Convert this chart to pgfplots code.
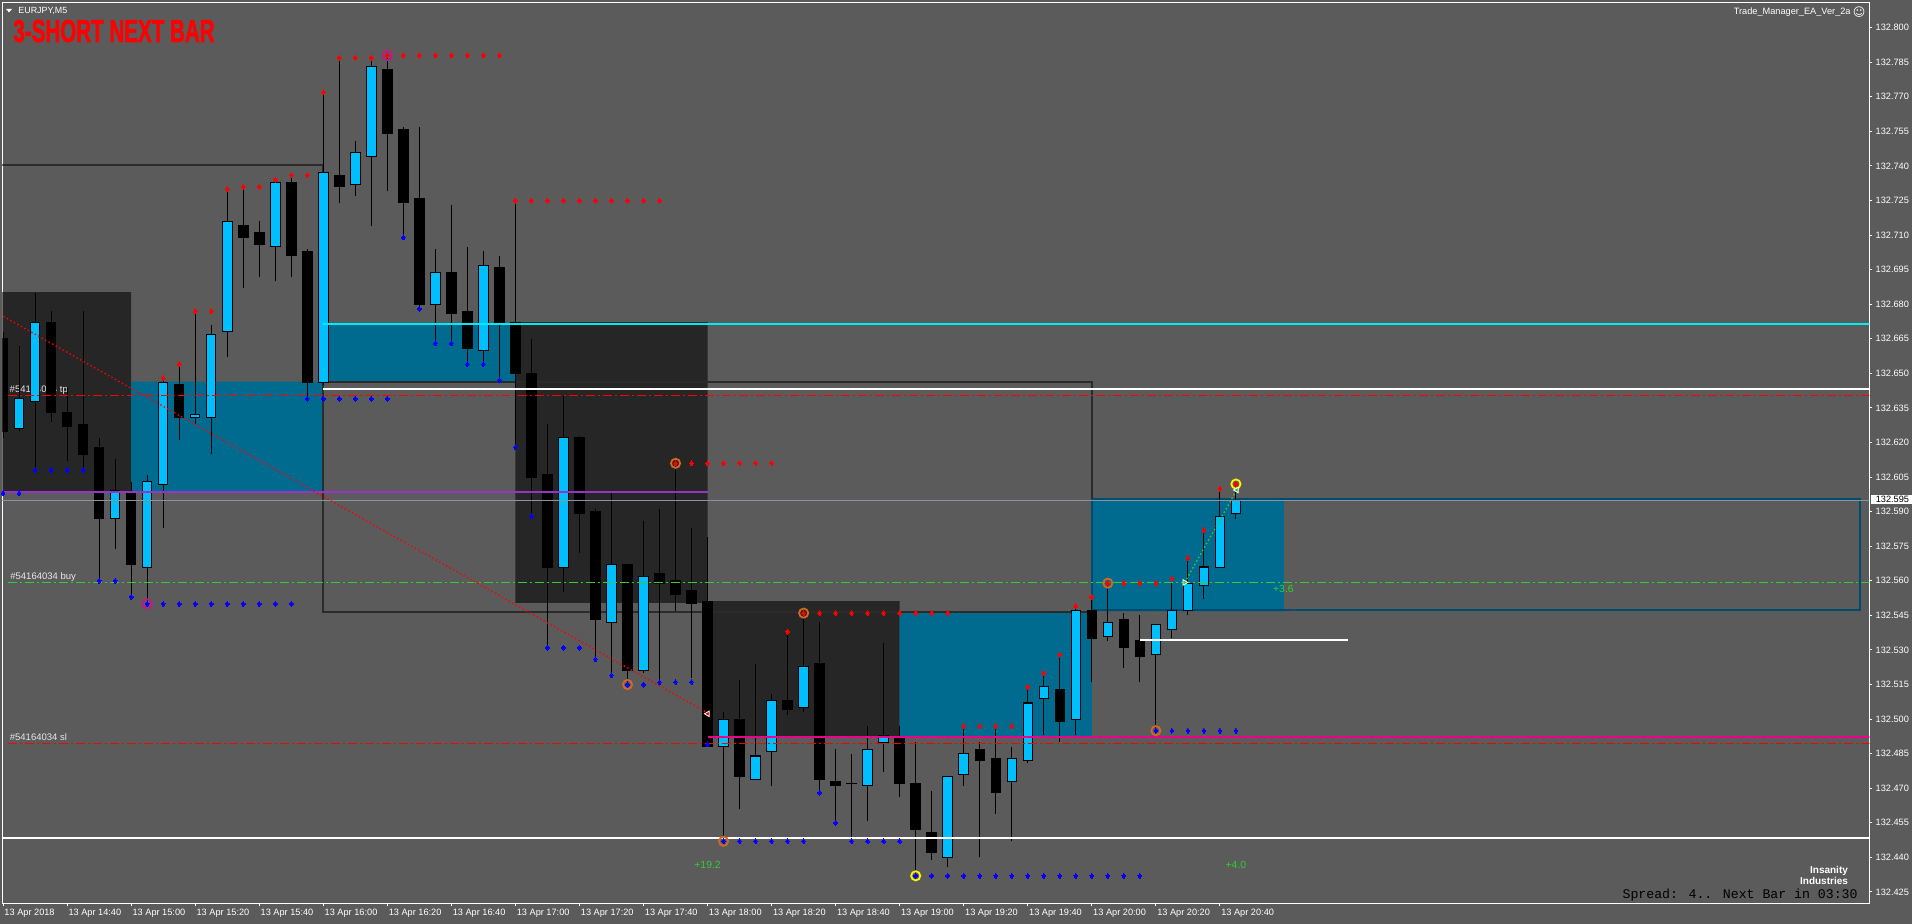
\documentclass[border=0pt]{standalone}
\usepackage{fontspec}
\setmainfont{Liberation Sans}
\newfontfamily\monofont{Liberation Mono}
\newfontfamily\symfont{DejaVu Sans}
\newfontfamily\titlefont[BoldFeatures={FakeBold=2}]{Liberation Sans}
\usepackage{graphicx}
\usepackage{pgfplots}
\usepackage{pgfplotstable}
\pgfplotsset{compat=1.18}

\definecolor{bg}{HTML}{5B5B5B}
\definecolor{darkbox}{HTML}{262626}
\definecolor{tealbox}{HTML}{006A8F}
\definecolor{candleblue}{HTML}{00BFFF}
\definecolor{boxline}{HTML}{2B2B2B}
\definecolor{tealline}{HTML}{004C6E}
\definecolor{cyanline}{HTML}{00ECF2}
\definecolor{purpleline}{HTML}{9932CC}
\definecolor{bidgrey}{HTML}{8795A3}
\definecolor{lime}{HTML}{32CD32}
\definecolor{labeltext}{HTML}{E8E8E8}
\definecolor{orangec}{HTML}{D2691E}
\definecolor{magc}{HTML}{C71585}

% 5 minute bars, i = 0 is 13 Apr 14:20
\pgfplotstableread{
i o h l c
0 132.665 132.668 132.622 132.625
1 132.626 132.662 132.625 132.639
2 132.638 132.685 132.608 132.672
3 132.672 132.677 132.629 132.633
4 132.633 132.644 132.612 132.627
5 132.628 132.677 132.608 132.615
6 132.618 132.622 132.560 132.587
7 132.587 132.613 132.574 132.599
8 132.598 132.603 132.553 132.567
9 132.566 132.606 132.550 132.603
10 132.602 132.647 132.583 132.646
11 132.645 132.653 132.621 132.631
12 132.631 132.677 132.628 132.632
13 132.631 132.671 132.615 132.667
14 132.668 132.730 132.657 132.716
15 132.714 132.731 132.687 132.709
16 132.711 132.716 132.692 132.706
17 132.705 132.734 132.690 132.733
18 132.733 132.735 132.692 132.701
19 132.703 132.704 132.639 132.646
20 132.646 132.772 132.645 132.737
21 132.736 132.787 132.724 132.731
22 132.732 132.751 132.727 132.746
23 132.744 132.787 132.714 132.783
24 132.782 132.788 132.729 132.754
25 132.756 132.757 132.709 132.724
26 132.726 132.757 132.678 132.680
27 132.680 132.704 132.663 132.694
28 132.694 132.723 132.663 132.676
29 132.677 132.705 132.654 132.661
30 132.660 132.703 132.654 132.697
31 132.696 132.701 132.647 132.672
32 132.672 132.725 132.618 132.650
33 132.650 132.665 132.588 132.605
34 132.606 132.628 132.531 132.566
35 132.566 132.640 132.555 132.622
36 132.622 132.623 132.572 132.589
37 132.590 132.591 132.526 132.543
38 132.542 132.598 132.519 132.567
39 132.567 132.567 132.515 132.521
40 132.521 132.586 132.520 132.562
41 132.563 132.591 132.516 132.559
42 132.560 132.611 132.547 132.554
43 132.556 132.583 132.518 132.550
44 132.551 132.579 132.488 132.488
45 132.488 132.503 132.447 132.500
46 132.500 132.517 132.461 132.475
47 132.474 132.524 132.474 132.484
48 132.486 132.511 132.471 132.508
49 132.508 132.538 132.502 132.504
50 132.505 132.546 132.503 132.523
51 132.524 132.542 132.468 132.474
52 132.473 132.487 132.455 132.471
53 132.472 132.485 132.447 132.472
54 132.471 132.497 132.456 132.487
55 132.490 132.533 132.477 132.493
56 132.492 132.497 132.466 132.472
57 132.472 132.490 132.432 132.452
58 132.451 132.469 132.439 132.442
59 132.440 132.475 132.436 132.475
60 132.476 132.497 132.471 132.485
61 132.487 132.490 132.440 132.482
62 132.483 132.497 132.459 132.468
63 132.473 132.488 132.447 132.483
64 132.482 132.514 132.481 132.507
65 132.509 132.520 132.493 132.514
66 132.513 132.528 132.490 132.499
67 132.500 132.549 132.493 132.547
68 132.547 132.553 132.516 132.535
69 132.536 132.559 132.534 132.542
70 132.543 132.546 132.522 132.531
71 132.534 132.545 132.516 132.527
72 132.528 132.541 132.495 132.541
73 132.539 132.561 132.535 132.547
74 132.547 132.570 132.545 132.559
75 132.558 132.582 132.552 132.566
76 132.566 132.600 132.566 132.588
77 132.589 132.602 132.587 132.595
}\candles

\pgfplotstableread{
i p
10 132.648
11 132.654
12 132.677
13 132.677
14 132.730
15 132.731
16 132.731
17 132.734
18 132.736
19 132.736
20 132.772
21 132.787
22 132.787
23 132.787
24 132.788
25 132.788
26 132.788
27 132.788
28 132.788
29 132.788
30 132.788
31 132.788
32 132.725
33 132.725
34 132.725
35 132.725
36 132.725
37 132.725
38 132.725
39 132.725
40 132.725
41 132.725
42 132.611
43 132.611
44 132.611
45 132.611
46 132.611
47 132.611
48 132.611
49 132.538
50 132.546
51 132.546
52 132.546
53 132.546
54 132.546
55 132.546
56 132.546
57 132.546
58 132.546
59 132.546
60 132.497
61 132.497
62 132.497
63 132.497
64 132.514
65 132.520
66 132.528
67 132.549
68 132.553
69 132.559
70 132.559
71 132.559
72 132.559
73 132.561
74 132.570
75 132.582
76 132.600
77 132.602
}\reddots

\pgfplotstableread{
i p
0 132.598
1 132.598
2 132.608
3 132.608
4 132.608
5 132.608
6 132.560
7 132.560
8 132.553
9 132.550
10 132.550
11 132.550
12 132.550
13 132.550
14 132.550
15 132.550
16 132.550
17 132.550
18 132.550
19 132.639
20 132.639
21 132.639
22 132.639
23 132.639
24 132.639
25 132.709
26 132.678
27 132.663
28 132.663
29 132.654
30 132.654
31 132.647
32 132.618
33 132.588
34 132.531
35 132.531
36 132.531
37 132.526
38 132.519
39 132.515
40 132.515
41 132.516
42 132.516
43 132.516
44 132.489
45 132.447
46 132.447
47 132.447
48 132.447
49 132.447
50 132.447
51 132.468
52 132.455
53 132.447
54 132.447
55 132.447
56 132.447
57 132.432
58 132.432
59 132.432
60 132.432
61 132.432
62 132.432
63 132.432
64 132.432
65 132.432
66 132.432
67 132.432
68 132.432
69 132.432
70 132.432
71 132.432
72 132.495
73 132.495
74 132.495
75 132.495
76 132.495
77 132.495
}\bluedots

\begin{document}
\begin{tikzpicture}[x=1pt,y=1pt]
\fill[bg] (0,0) rectangle (956,462);
\begin{axis}[
  at={(1.25pt,10.35pt)}, anchor=south west, scale only axis,
  width=933.4pt, height=450.3pt,
  xmin=-0.0375, xmax=116.56, ymin=132.42009, ymax=132.81085,
  axis line style={white, line width=0.5pt},
  tick align=outside, major tick length=1.5pt,
  tick style={white, line width=0.5pt},
  xtick pos=left, ytick pos=right, xticklabel pos=left, yticklabel pos=right,
  xtick={0,4,...,76},
  xticklabels={13 Apr 2018, 13 Apr 14:40, 13 Apr 15:00, 13 Apr 15:20, 13 Apr 15:40,
    13 Apr 16:00, 13 Apr 16:20, 13 Apr 16:40, 13 Apr 17:00, 13 Apr 17:20, 13 Apr 17:40,
    13 Apr 18:00, 13 Apr 18:20, 13 Apr 18:40, 13 Apr 19:00, 13 Apr 19:20, 13 Apr 19:40,
    13 Apr 20:00, 13 Apr 20:20, 13 Apr 20:40},
  xticklabel style={font=\fontsize{4.6}{5}\selectfont, text=white, anchor=north west,
    inner sep=0pt, xshift=0.5pt, yshift=-1pt},
  ytick={132.425,132.440,132.455,132.470,132.485,132.500,132.515,132.530,132.545,
    132.560,132.575,132.590,132.605,132.620,132.635,132.650,132.665,132.680,132.695,
    132.710,132.725,132.740,132.755,132.770,132.785,132.800},
  yticklabel style={font=\fontsize{4.6}{5}\selectfont, text=white, anchor=west,
    inner sep=0pt, xshift=1.5pt},
  /pgf/number format/fixed, /pgf/number format/fixed zerofill,
  /pgf/number format/precision=3, /pgf/number format/1000 sep={},
  /pgf/number format/assume math mode=true,
]
% boxes
\addplot[fill=darkbox, draw=none] coordinates {(-2,132.6853) (8,132.6853) (8,132.5985) (-2,132.5985) (-2,132.6853)};
\addplot[fill=tealbox, draw=none] coordinates {(8,132.6464) (20,132.6464) (20,132.5985) (8,132.5985) (8,132.6464)};
\addplot[fill=tealbox, draw=none] coordinates {(20,132.6714) (32,132.6714) (32,132.6464) (20,132.6464) (20,132.6714)};
\addplot[fill=darkbox, draw=none] coordinates {(32,132.6723) (44,132.6723) (44,132.5504) (32,132.5504) (32,132.6723)};
\addplot[fill=darkbox, draw=none] coordinates {(44,132.5512) (56,132.5512) (56,132.4922) (44,132.4922) (44,132.5512)};
\addplot[fill=tealbox, draw=none] coordinates {(56,132.5465) (68,132.5465) (68,132.4927) (56,132.4927) (56,132.5465)};
\addplot[fill=tealbox, draw=none] coordinates {(68,132.5957) (80,132.5957) (80,132.5467) (68,132.5467) (68,132.5957)};
\addplot[draw=boxline, line width=1pt] coordinates {(-2,132.7405) (20,132.7405) (20,132.6464)};
\addplot[draw=boxline, line width=1pt] coordinates {(20,132.6464) (68,132.6464) (68,132.5465) (20,132.5465) (20,132.6464)};
\addplot[draw=tealline, line width=1pt] coordinates {(68,132.5955) (116,132.5955) (116,132.5474) (68,132.5474) (68,132.5955)};

% order labels
\node[anchor=west, text=labeltext, font=\fontsize{4.75}{5}\selectfont, inner sep=0pt] at (axis cs:0.39,132.6427) {\#54164034 tp};
\node[anchor=west, text=labeltext, font=\fontsize{4.75}{5}\selectfont, inner sep=0pt] at (axis cs:0.43,132.5618) {\#54164034 buy};
\node[anchor=west, text=labeltext, font=\fontsize{4.75}{5}\selectfont, inner sep=0pt] at (axis cs:0.40,132.4922) {\#54164034 sl};

% candles: wicks, body outline, bullish fill
\addplot[draw=none, mark=none, error bars/.cd, y dir=plus, y explicit, error mark=none,
  error bar style={draw=black, line width=0.5pt}]
  table[x=i, y=l, y error expr=\thisrow{h}-\thisrow{l}] {\candles};
\addplot[draw=none, mark=none, error bars/.cd, y dir=plus, y explicit, error mark=none,
  error bar style={draw=black, line width=5.25pt}]
  table[x=i, y expr={min(\thisrow{o},\thisrow{c})-0.00022}, y error expr={abs(\thisrow{c}-\thisrow{o})+0.00044}] {\candles};
\addplot[draw=none, mark=none, restrict expr to domain={\thisrow{c}-\thisrow{o}}{0.0005:1},
  error bars/.cd, y dir=plus, y explicit, error mark=none,
  error bar style={draw=candleblue, line width=4.25pt}]
  table[x=i, y expr={\thisrow{o}+0.00022}, y error expr={\thisrow{c}-\thisrow{o}-0.00044}] {\candles};

% horizontal lines
\addplot[cyanline, line width=1pt] coordinates {(20,132.6714) (118,132.6714)};
\addplot[white, line width=1pt] coordinates {(20,132.6433) (118,132.6433)};
\addplot[red, line width=0.5pt, dash pattern=on 4.5pt off 1.5pt on 1pt off 1.5pt] coordinates {(0.3,132.6405) (118,132.6405)};
\addplot[purpleline, line width=1pt] coordinates {(-1,132.5985) (44,132.5985)};
\addplot[bidgrey, line width=0.5pt] coordinates {(-1,132.595) (118,132.595)};
\addplot[lime, line width=0.5pt, dash pattern=on 4.5pt off 1.5pt on 1pt off 1.5pt] coordinates {(0.3,132.5593) (118,132.5593)};
\addplot[magenta, line width=1pt] coordinates {(44,132.4923) (118,132.4923)};
\addplot[red, line width=0.5pt, dash pattern=on 4.5pt off 1.5pt on 1pt off 1.5pt] coordinates {(0.3,132.4894) (118,132.4894)};
\addplot[white, line width=1pt] coordinates {(-1,132.4484) (118,132.4484)};
\addplot[white, line width=1pt] coordinates {(71,132.5344) (84,132.5344)};

% trade lines
\addplot[red, line width=0.7pt, dash pattern=on 0.7pt off 1.3pt] coordinates {(-0.2,132.6756) (44,132.5027)};
\addplot[lime, line width=0.7pt, dash pattern=on 0.7pt off 1.3pt] coordinates {(73.8,132.5593) (77.05,132.5994)};

% fractal dots
\addplot[only marks, mark=diamond*, mark size=1.25pt, mark options={draw=red, fill=red, line width=0pt}] table[x=i, y=p] {\reddots};
\addplot[only marks, mark=diamond*, mark size=1.25pt, mark options={draw=blue, fill=blue, line width=0pt}] table[x=i, y=p] {\bluedots};

% signal circles
\addplot[only marks, mark=o, mark size=2.3pt, mark options={draw=magc, line width=0.9pt}] coordinates {(9,132.550) (24,132.788)};
\addplot[only marks, mark=o, mark size=2.3pt, mark options={draw=orangec, line width=0.9pt}] coordinates {(39,132.515) (42,132.611) (45,132.447) (50,132.546) (69,132.559) (72,132.495)};
\addplot[only marks, mark=o, mark size=2.3pt, mark options={draw=yellow, line width=0.9pt}] coordinates {(57,132.432) (77,132.602)};

% trade arrows
\addplot[only marks, mark=triangle*, mark size=1.6pt, mark options={rotate=90, fill=red, draw=white, line width=0.4pt}] coordinates {(44,132.5023)};
\addplot[only marks, mark=triangle*, mark size=1.6pt, mark options={rotate=-90, fill=lime, draw=white, line width=0.4pt}] coordinates {(73.8,132.5593)};
\addplot[only marks, mark=triangle*, mark size=1.6pt, mark options={rotate=90, fill=lime, draw=white, line width=0.4pt}] coordinates {(77.05,132.5994)};

% profit labels
\node[text=lime, font=\fontsize{5.2}{6}\selectfont, inner sep=0pt] at (axis cs:44,132.4366) {+19.2};
\node[text=lime, font=\fontsize{5.2}{6}\selectfont, inner sep=0pt] at (axis cs:77,132.4366) {+4.0};
\node[anchor=west, text=lime, font=\fontsize{5.2}{6}\selectfont, inner sep=0pt] at (axis cs:79.3,132.5566) {+3.6};
\end{axis}

% chart window texts
\fill[white] (3,457.5) -- (6,457.5) -- (4.5,455.8) -- cycle;
\node[anchor=base west, text=white, inner sep=0pt, font=\fontsize{4.45}{5}\selectfont] at (9,455) {EURJPY,M5};
\node[anchor=base west, text=red, inner sep=0pt] at (6.5,441) {\scalebox{0.7}[1.08]{\titlefont\fontsize{14.7}{15}\selectfont\bfseries 3-SHORT NEXT BAR}};
\node[anchor=base east, text=white, inner sep=0pt, font=\fontsize{4.6}{5}\selectfont] at (925.5,454.5) {Trade\_Manager\_EA\_Ver\_2a};
\node[text=white, inner sep=0pt, font=\fontsize{6}{6}\selectfont] at (929.5,456) {\symfont ☺};
\node[anchor=west, fill=white, text=black, inner sep=0pt, minimum width=20.5pt, minimum height=4.75pt, text width=20.5pt, align=left, font=\fontsize{4.6}{5}\selectfont] at (935.5,212.25) {\hspace*{2.2pt}132.595};
\node[anchor=base east, text=black, inner sep=0pt, font=\monofont\fontsize{6.6}{7}\selectfont] at (929,12.5) {Spread: 4.. Next Bar in 03:30};
\node[text=white, inner sep=0pt, font=\fontsize{5}{5}\selectfont\bfseries] at (914.5,26.5) {Insanity};
\node[text=white, inner sep=0pt, font=\fontsize{5}{5}\selectfont\bfseries] at (912,21.5) {Industries};
\pgfresetboundingbox
\useasboundingbox (0,0) rectangle (956,462);
\end{tikzpicture}
\end{document}
